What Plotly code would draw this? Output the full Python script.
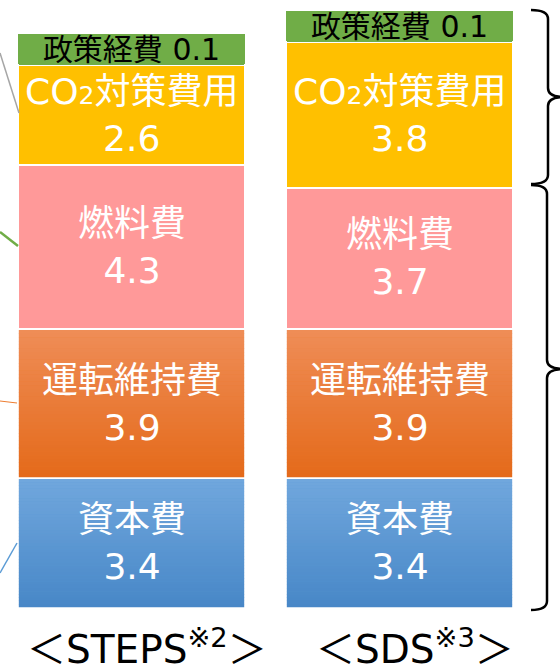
import plotly.graph_objects as go

# Scenario cost breakdown (stacked)
scenarios = ["STEPS", "SDS"]
scenario_labels = ["＜STEPS<sup>※2</sup>＞", "＜SDS<sup>※3</sup>＞"]

capital = [3.4, 3.4]          # 資本費
om = [3.9, 3.9]               # 運転維持費
fuel = [4.3, 3.7]             # 燃料費
co2 = [2.6, 3.8]              # CO2対策費用
policy = [0.1, 0.1]           # 政策経費

# name, values, flat colour, optional (top, bottom) gradient
series = [
    ("資本費", capital, "#5B9BD5", ("#71A7DD", "#4787C7")),
    ("運転維持費", om, "#ED7D31", ("#EF8D57", "#E46A1A")),
    ("燃料費", fuel, "#FF9999", None),
    ("CO<span style=\"font-size:25px\">2</span>対策費用", co2, "#FFC000", None),
    ("政策経費", policy, "#70AD47", None),
]

W, H = 560, 667
FONT = "DejaVu Sans, Noto Sans CJK JP"
BAR_W = 0.847
base_px, k = 608, 38.2          # pixel row of zero, pixels per unit

fig = go.Figure()
for name, vals, color, _ in series:
    fig.add_trace(go.Bar(
        x=scenarios,
        y=vals,
        name=name,
        marker=dict(color=color, line=dict(color="white", width=1.5)),
        width=BAR_W,
        showlegend=False,
        hoverinfo="x+y",
    ))


def hex_rgb(h):
    h = h.lstrip("#")
    return tuple(int(h[i:i + 2], 16) for i in (0, 2, 4))


def mix(c1, c2, t):
    a, b = hex_rgb(c1), hex_rgb(c2)
    return "rgb({},{},{})".format(*[round(a[i] + (b[i] - a[i]) * t) for i in range(3)])


shapes = []
N = 40
inset = 0.8 / k
for i, sc in enumerate(scenarios):
    cum = 0.0
    for name, vals, color, grad in series:
        v = vals[i]
        if grad:
            lo, hi = cum + inset, cum + v - inset
            step = (hi - lo) / N
            for j in range(N):
                top = hi - j * step
                bot = max(lo, top - step - 0.3 / k)
                shapes.append(dict(
                    type="rect", xref="x", yref="y", layer="above",
                    x0=i - BAR_W / 2 + 0.003, x1=i + BAR_W / 2 - 0.003,
                    y0=bot, y1=top,
                    fillcolor=mix(grad[0], grad[1], (j + 0.5) / N),
                    line=dict(width=0),
                ))
        if name != "政策経費":
            fig.add_annotation(
                x=sc, y=cum + v / 2, xref="x", yref="y",
                text=f"{name}<br>{v}", showarrow=False,
                font=dict(family=FONT, size=36, color="white"),
            )
        cum += v

    # label box for the small policy-cost segment on top of each stack
    base = capital[i] + om[i] + fuel[i] + co2[i]
    fig.add_annotation(
        x=sc, y=base, xref="x", yref="y", yshift=2,
        text=f"政策経費 {policy[i]}",
        showarrow=False, yanchor="bottom",
        width=227, height=30, bgcolor="#70AD47",
        borderpad=0, borderwidth=0,
        font=dict(family=FONT, size=30, color="black"),
    )
    fig.add_annotation(
        x=sc, y=-1.03, xref="x", yref="y",
        text=scenario_labels[i],
        showarrow=False, yanchor="middle", xshift=15,
        font=dict(family=FONT, size=39, color="black"),
    )


def px(x, y):
    return f"{x / W:.5f},{1 - y / H:.5f}"


def brace(x0, xv, xt, top, tip, bot, r=9):
    return (f"M {px(x0, top)} Q {px(xv, top)} {px(xv, top + r)} "
            f"L {px(xv, tip - r)} Q {px(xv, tip)} {px(xt, tip)} "
            f"Q {px(xv, tip)} {px(xv, tip + r)} "
            f"L {px(xv, bot - r)} Q {px(xv, bot)} {px(x0, bot)}")


shapes += [
    dict(type="path", xref="paper", yref="paper",
         path=brace(531, 548, 564, 10, 97, 184),
         line=dict(color="black", width=2.5)),
    dict(type="path", xref="paper", yref="paper",
         path=brace(531, 547, 564, 185, 369, 610),
         line=dict(color="black", width=2.5)),
]

# leader lines entering from the left
leaders = [
    ((0, 53), (19, 113), "#A6A6A6", 1.5),
    ((0, 232), (18, 246), "#70AD47", 2.5),
    ((0, 401), (17, 403), "#ED7D31", 1),
    ((0, 573), (17, 543), "#5B9BD5", 1.5),
]
for (xa, ya), (xb, yb), c, w in leaders:
    shapes.append(dict(type="line", xref="paper", yref="paper",
                       x0=xa / W, y0=1 - ya / H, x1=xb / W, y1=1 - yb / H,
                       line=dict(color=c, width=w)))

fig.update_layout(
    width=W, height=H,
    margin=dict(l=0, r=0, t=0, b=0),
    barmode="stack",
    paper_bgcolor="white", plot_bgcolor="white",
    shapes=shapes,
    xaxis=dict(range=[-0.4907, 1.5989], visible=False),
    yaxis=dict(range=[-(H - base_px) / k, base_px / k], visible=False),
)

fig.write_html("out.html")
